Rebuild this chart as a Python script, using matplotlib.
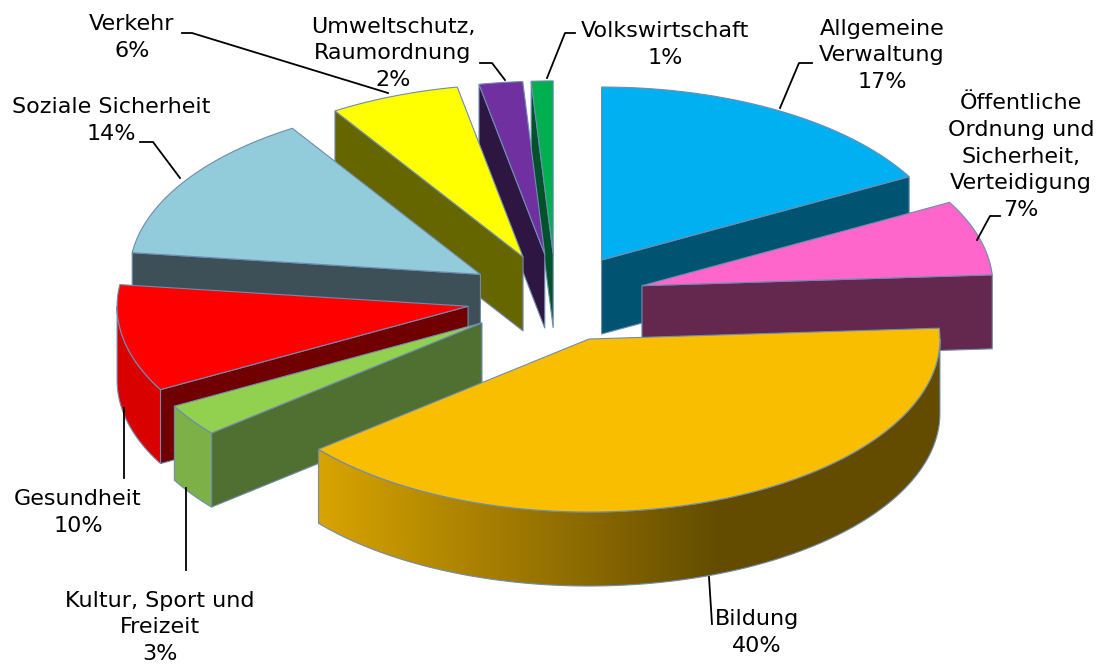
import numpy as np
import matplotlib.pyplot as plt
from matplotlib.patches import Polygon
from matplotlib.colors import to_rgb

# data (clockwise from 12 o'clock)
categories = ["Allgemeine\nVerwaltung",
              "Öffentliche\nOrdnung und\nSicherheit,\nVerteidigung",
              "Bildung",
              "Kultur, Sport und\nFreizeit",
              "Gesundheit",
              "Soziale Sicherheit",
              "Verkehr",
              "Umweltschutz,\nRaumordnung",
              "Volkswirtschaft"]
shares = [17, 7, 40, 3, 10, 14, 6, 2, 1]

top_colors = ["#00B0F0", "#FF66CC", "#FABE00", "#92D050", "#FF0000",
              "#92CBDA", "#FFFF00", "#7030A0", "#00B050"]
cut_colors = ["#005472", "#64284F", "#7A5C00", "#4F7030", "#700000",
              "#3D5058", "#666600", "#2E1642", "#00522A"]
wall_colors = ["#0080B0", "#B04890", None, "#7DB046", "#D90000",
               "#6A9AA6", "#B0B000", "#50207A", "#008040"]

# label placement (baseline of the last line) and leader lines
label_x = [882, 1021, 757, 160, 78, 111, 132, 393, 665]
label_y = [88, 216, 652, 660, 532, 140, 57, 86, 64]
leaders = [[(812, 63), (799, 63), (780, 108)],
           [(1000, 216), (990, 216), (977, 240)],
           [(712, 624), (709, 577)],
           [(186, 570), (186, 488)],
           [(124, 478), (124, 408)],
           [(140, 142), (153, 142), (180, 178)],
           [(182, 33), (192, 33), (388, 93)],
           [(480, 63), (492, 63), (505, 80)],
           [(575, 33), (565, 33), (547, 78)]]

# 3d pie geometry (pixels)
CX, CY = 556, 298
RX, RY = 351, 173
DEPTH = 74
EXPLODE = 0.255
EDGE = "#6F8CB0"

fig = plt.figure(figsize=(11.07, 6.65), dpi=100)
ax = fig.add_axes([0, 0, 1, 1])
ax.set_xlim(0, 1107)
ax.set_ylim(665, 0)
ax.axis("off")


def pt(theta, ox, oy, r=1.0, z=0.0):
    t = np.radians(theta)
    return (CX + ox + RX * r * np.cos(t), CY + oy - RY * r * np.sin(t) + z)


def arc(t0, t1, ox, oy, z=0.0):
    n = max(3, int(abs(t1 - t0) * 2))
    return [pt(t, ox, oy, 1.0, z) for t in np.linspace(t0, t1, n)]


cum = np.concatenate([[0], np.cumsum(shares)])
starts = 90 - cum[:-1] * 3.6
ends = 90 - cum[1:] * 3.6
mids = (starts + ends) / 2

order = sorted(range(len(shares)), key=lambda i: -np.sin(np.radians(mids[i])))

z = 10
for i in order:
    t0, t1, m = starts[i], ends[i], np.radians(mids[i])
    ox = EXPLODE * RX * np.cos(m)
    oy = -EXPLODE * RY * np.sin(m)
    apex = (CX + ox, CY + oy)
    apex_b = (apex[0], apex[1] + DEPTH)

    # radial cut faces
    for t, normal in [(t0, t0 + 90), (t1, t1 - 90)]:
        if np.sin(np.radians(normal)) < -1e-6:
            p_top = pt(t, ox, oy)
            p_bot = pt(t, ox, oy, z=DEPTH)
            ax.add_patch(Polygon([apex, p_top, p_bot, apex_b], closed=True,
                                 facecolor=cut_colors[i], edgecolor=EDGE,
                                 lw=0.8, zorder=z))

    # outer wall (front half only)
    a, b = max(t1, -180), min(t0, 0)
    if a < b:
        wall = arc(b, a, ox, oy) + arc(a, b, ox, oy, z=DEPTH)
        if wall_colors[i] is None:
            clip = Polygon(wall, closed=True, transform=ax.transData)
            xs = [p[0] for p in wall]
            ys = [p[1] for p in wall]
            x0, x1 = min(xs), max(xs)
            gx = np.linspace(x0, x1, 300)
            c_l, c_d = np.array(to_rgb("#D8A400")), np.array(to_rgb("#634C00"))
            f = np.clip((gx - x0) / (720 - x0), 0, 1)[:, None]
            grad = (c_l * (1 - f) + c_d * f)[None, :, :]
            im = ax.imshow(grad, extent=(x0, x1, max(ys), min(ys)),
                           aspect="auto", zorder=z, interpolation="bilinear")
            im.set_clip_path(clip)
            ax.add_patch(Polygon(wall, closed=True, fill=False,
                                 edgecolor=EDGE, lw=0.8, zorder=z + 0.5))
        else:
            ax.add_patch(Polygon(wall, closed=True, facecolor=wall_colors[i],
                                 edgecolor=EDGE, lw=0.8, zorder=z))

    # top face
    top = [apex] + arc(t0, t1, ox, oy)
    ax.add_patch(Polygon(top, closed=True, facecolor=top_colors[i],
                         edgecolor=EDGE, lw=0.8, zorder=z + 1))
    z += 3

ax.set_xlim(0, 1107)
ax.set_ylim(665, 0)

for i in range(len(shares)):
    ax.text(label_x[i], label_y[i], f"{categories[i]}\n{shares[i]}%",
            ha="center", va="baseline", fontsize=16, linespacing=1.42,
            family="DejaVu Sans", color="black", zorder=100)
    xs, ys = zip(*leaders[i])
    ax.plot(xs, ys, color="black", lw=1.3, zorder=99)

fig.savefig("out.png", dpi=100)
